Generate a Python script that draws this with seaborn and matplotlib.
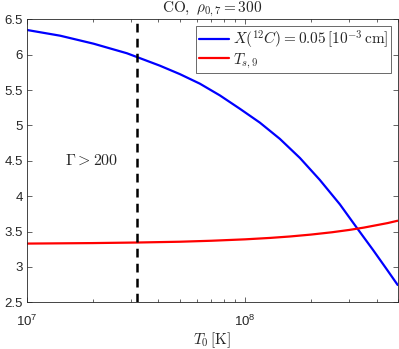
import numpy as np
import pandas as pd
import seaborn as sns
import matplotlib.pyplot as plt
from matplotlib.ticker import LogLocator, FixedLocator

# values
t0_blue = [1.0e7, 1.42e7, 2.02e7, 2.87e7, 4.06e7, 5.02e7, 6.2e7, 7.65e7, 9.46e7,
           1.167e8, 1.442e8, 1.782e8, 2.198e8, 2.716e8, 3.236e8, 3.855e8, 4.446e8, 5.0e8]
x12c = [6.349, 6.268, 6.155, 6.02, 5.845, 5.725, 5.59, 5.425, 5.235,
        5.04, 4.81, 4.54, 4.23, 3.885, 3.56, 3.24, 2.97, 2.745]

t0_red = [1.0e7, 2.0e7, 3.2e7, 5.0e7, 7.0e7, 1.0e8, 1.3e8, 1.6e8, 2.0e8,
          2.5e8, 3.0e8, 3.5e8, 4.0e8, 4.5e8, 5.0e8]
ts9 = [3.33, 3.337, 3.345, 3.356, 3.37, 3.39, 3.41, 3.43, 3.457,
       3.49, 3.523, 3.556, 3.59, 3.62, 3.653]

gamma_limit = 3.2e7
yticks = [2.5, 3, 3.5, 4, 4.5, 5, 5.5, 6, 6.5]
ytick_labels = ["2.5", "3", "3.5", "4", "4.5", "5", "5.5", "6", "6.5"]

sns.set_style("ticks")
plt.rcParams['font.family'] = ['Liberation Sans', 'DejaVu Sans']
plt.rcParams['mathtext.fontset'] = 'cm'

df_blue = pd.DataFrame({'T0': t0_blue, 'val': x12c})
df_red = pd.DataFrame({'T0': t0_red, 'val': ts9})

fig = plt.figure(figsize=(3.99, 3.49), dpi=100)
ax = fig.add_axes([0.0677, 0.1338, 0.9967 - 0.0677, 0.9447 - 0.1338])

sns.lineplot(data=df_blue, x='T0', y='val', ax=ax, color=(0, 0, 1), lw=1.6,
             label=r"$X(^{12}C) = 0.05\,[10^{-3}\,\mathrm{cm}]$")
sns.lineplot(data=df_red, x='T0', y='val', ax=ax, color=(1, 0, 0), lw=1.6,
             label=r"$T_{s,9}$")
ax.axvline(gamma_limit, color='black', ls=(0, (3.5, 2.5)), lw=1.8)

ax.set_xscale('log')
ax.set_xlim(1e7, 5e8)
ax.set_ylim(2.5, 6.5)
ax.yaxis.set_major_locator(FixedLocator(yticks))
ax.set_yticklabels(ytick_labels)
ax.xaxis.set_minor_locator(LogLocator(base=10, subs=np.arange(2, 10)))

gray = (0.15, 0.15, 0.15)
for s in ax.spines.values():
    s.set_color(gray)
    s.set_linewidth(0.6)
ax.tick_params(which='both', direction='in', top=True, right=True, colors=gray,
               labelsize=9.5, width=0.5)
ax.tick_params(which='major', length=3.5)
ax.tick_params(which='minor', length=2)
ax.tick_params(axis='x', pad=8)
ax.tick_params(axis='y', pad=3)

ax.text(1.98e7, 4.51, r"$\Gamma > 200$", fontsize=11.5, ha='center', va='center')
ax.set_title(r"$\mathrm{CO},\ \rho_{0,7} = 300$", fontsize=11, pad=3)
ax.set_xlabel(r"$T_0\,[\mathrm{K}]$", fontsize=11, labelpad=1)
ax.set_ylabel("")

leg = ax.legend(loc='upper right', fontsize=11, frameon=True, fancybox=False,
                borderpad=0.15, handlelength=2.0, handletextpad=0.25,
                labelspacing=0.05, borderaxespad=0.45)
leg.get_frame().set_edgecolor(gray)
leg.get_frame().set_linewidth(0.6)

fig.savefig('out.png', dpi=100)
